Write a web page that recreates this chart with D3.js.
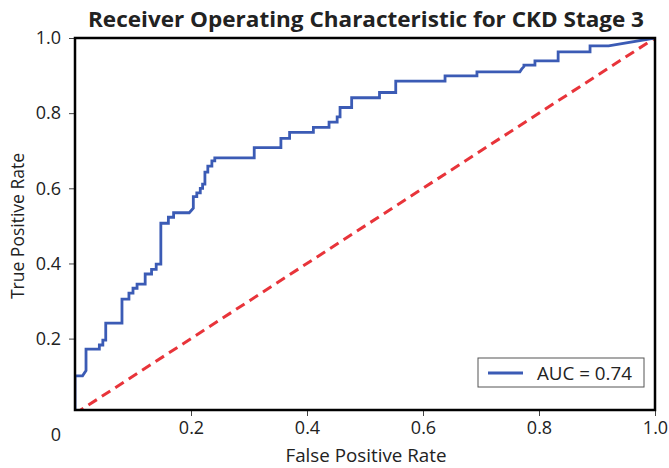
<!DOCTYPE html>
<html>
<head>
<meta charset="utf-8">
<script src="https://cdn.jsdelivr.net/npm/d3@7"></script>
<style>
  body { margin: 0; background: #fff; }
  text { font-family: "Open Sans", "Noto Sans", sans-serif; fill: #222; }
</style>
</head>
<body>
<div id="chart"></div>
<script>
// ROC curve vertices
const fpr = [0, 0, 0.013, 0.019, 0.019, 0.042, 0.042, 0.048, 0.048, 0.053, 0.053, 0.081, 0.081,
  0.093, 0.093, 0.100, 0.100, 0.107, 0.107, 0.121, 0.121, 0.132, 0.132, 0.140, 0.140, 0.148, 0.148,
  0.161, 0.161, 0.170, 0.170, 0.197, 0.204, 0.204, 0.210, 0.210, 0.216, 0.216, 0.220, 0.220, 0.224,
  0.224, 0.229, 0.229, 0.236, 0.236, 0.241, 0.241, 0.309, 0.309, 0.355, 0.355, 0.370, 0.370, 0.411,
  0.411, 0.438, 0.438, 0.452, 0.452, 0.457, 0.457, 0.477, 0.477, 0.525, 0.525, 0.553, 0.553, 0.638,
  0.638, 0.693, 0.693, 0.767, 0.770, 0.774, 0.774, 0.793, 0.793, 0.833, 0.833, 0.888, 0.888, 0.920, 1.0];
const tpr = [0, 0.101, 0.101, 0.115, 0.172, 0.172, 0.183, 0.183, 0.196, 0.196, 0.241, 0.241, 0.305,
  0.305, 0.321, 0.321, 0.334, 0.334, 0.345, 0.345, 0.372, 0.372, 0.384, 0.384, 0.398, 0.398, 0.507,
  0.507, 0.523, 0.523, 0.535, 0.535, 0.547, 0.578, 0.578, 0.588, 0.588, 0.600, 0.600, 0.611, 0.611,
  0.643, 0.643, 0.659, 0.659, 0.673, 0.673, 0.681, 0.681, 0.708, 0.708, 0.733, 0.733, 0.749, 0.749,
  0.762, 0.762, 0.776, 0.776, 0.790, 0.790, 0.815, 0.815, 0.841, 0.841, 0.855, 0.855, 0.885, 0.885,
  0.899, 0.899, 0.910, 0.910, 0.917, 0.924, 0.928, 0.928, 0.939, 0.939, 0.963, 0.963, 0.979, 0.979, 1.0];
const chance = [0, 1];
const xTicks = [0.2, 0.4, 0.6, 0.8, 1.0];
const yTicks = [0.2, 0.4, 0.6, 0.8, 1.0];
const aucLabel = "AUC = 0.74";

const width = 669, height = 468;
const plotBox = {left: 75, right: 655, top: 38, bottom: 410};

const svg = d3.select("#chart").append("svg")
    .attr("width", width)
    .attr("height", height);

// Scales
const x = d3.scaleLinear().domain([0, 1]).range([plotBox.left, plotBox.right]);
const y = d3.scaleLinear().domain([0.01, 1]).range([plotBox.bottom, plotBox.top]);

svg.append("defs").append("clipPath").attr("id", "clip")
    .append("rect")
    .attr("x", plotBox.left).attr("y", plotBox.top)
    .attr("width", plotBox.right - plotBox.left).attr("height", plotBox.bottom - plotBox.top);

// Axes
svg.append("g")
    .attr("transform", `translate(0,${plotBox.bottom})`)
    .call(d3.axisBottom(x).tickValues(xTicks).tickFormat(d3.format(".1f")).tickSizeOuter(0).tickSize(6).tickPadding(5))
    .call(g => g.select(".domain").remove())
    .call(g => g.selectAll("line").attr("stroke", "#444"))
    .call(g => g.selectAll("text").style("font-size", "18px").attr("fill", "#222"));

svg.append("g")
    .attr("transform", `translate(${plotBox.left},0)`)
    .call(d3.axisLeft(y).tickValues(yTicks).tickFormat(d3.format(".1f")).tickSizeOuter(0).tickSize(6).tickPadding(8))
    .call(g => g.select(".domain").remove())
    .call(g => g.selectAll("line").attr("stroke", "#444"))
    .call(g => g.selectAll("text").style("font-size", "18px").attr("fill", "#222"));

// Origin label
svg.append("text")
    .attr("x", 56)
    .attr("y", 441)
    .style("text-anchor", "middle")
    .style("font-size", "18px")
    .text("0");

// Chance line
const plot = svg.append("g").attr("clip-path", "url(#clip)");
plot.append("line")
    .attr("x1", x(chance[0])).attr("y1", y(chance[0]))
    .attr("x2", x(chance[1])).attr("y2", y(chance[1]))
    .attr("stroke", "#e8343a")
    .attr("stroke-width", 3)
    .attr("stroke-dasharray", "10,6");

// ROC curve
const pts = fpr.map((d, i) => [d, tpr[i]]);
plot.append("path")
    .datum(pts)
    .attr("fill", "none")
    .attr("stroke", "#3b5bb5")
    .attr("stroke-width", 2.8)
    .attr("d", d3.line().x(d => x(d[0])).y(d => y(d[1])));

// Frame
svg.append("rect")
    .attr("x", plotBox.left).attr("y", plotBox.top)
    .attr("width", plotBox.right - plotBox.left).attr("height", plotBox.bottom - plotBox.top)
    .attr("fill", "none")
    .attr("stroke", "#000")
    .attr("stroke-width", 2.5);

// Title and axis labels
svg.append("text")
    .attr("x", 366)
    .attr("y", 27)
    .style("text-anchor", "middle")
    .style("font-size", "21px")
    .style("font-weight", "bold")
    .attr("fill", "#111")
    .attr("textLength", 556)
    .attr("lengthAdjust", "spacingAndGlyphs")
    .text("Receiver Operating Characteristic for CKD Stage 3");

svg.append("text")
    .attr("x", 366)
    .attr("y", 462)
    .style("text-anchor", "middle")
    .style("font-size", "18px")
    .attr("textLength", 161)
    .attr("lengthAdjust", "spacingAndGlyphs")
    .text("False Positive Rate");

svg.append("text")
    .attr("transform", "rotate(-90)")
    .attr("x", -226)
    .attr("y", 24)
    .style("text-anchor", "middle")
    .style("font-size", "17.5px")
    .text("True Positive Rate");

// Legend
const legend = svg.append("g");
legend.append("rect")
    .attr("x", 478).attr("y", 358)
    .attr("width", 166).attr("height", 29)
    .attr("fill", "#fff")
    .attr("stroke", "#555")
    .attr("stroke-width", 1);
legend.append("line")
    .attr("x1", 488).attr("x2", 523)
    .attr("y1", 373).attr("y2", 373)
    .attr("stroke", "#3b5bb5")
    .attr("stroke-width", 2.8);
legend.append("text")
    .attr("x", 537)
    .attr("y", 380)
    .style("font-size", "18px")
    .attr("textLength", 95)
    .attr("lengthAdjust", "spacingAndGlyphs")
    .text(aucLabel);
</script>
</body>
</html>
